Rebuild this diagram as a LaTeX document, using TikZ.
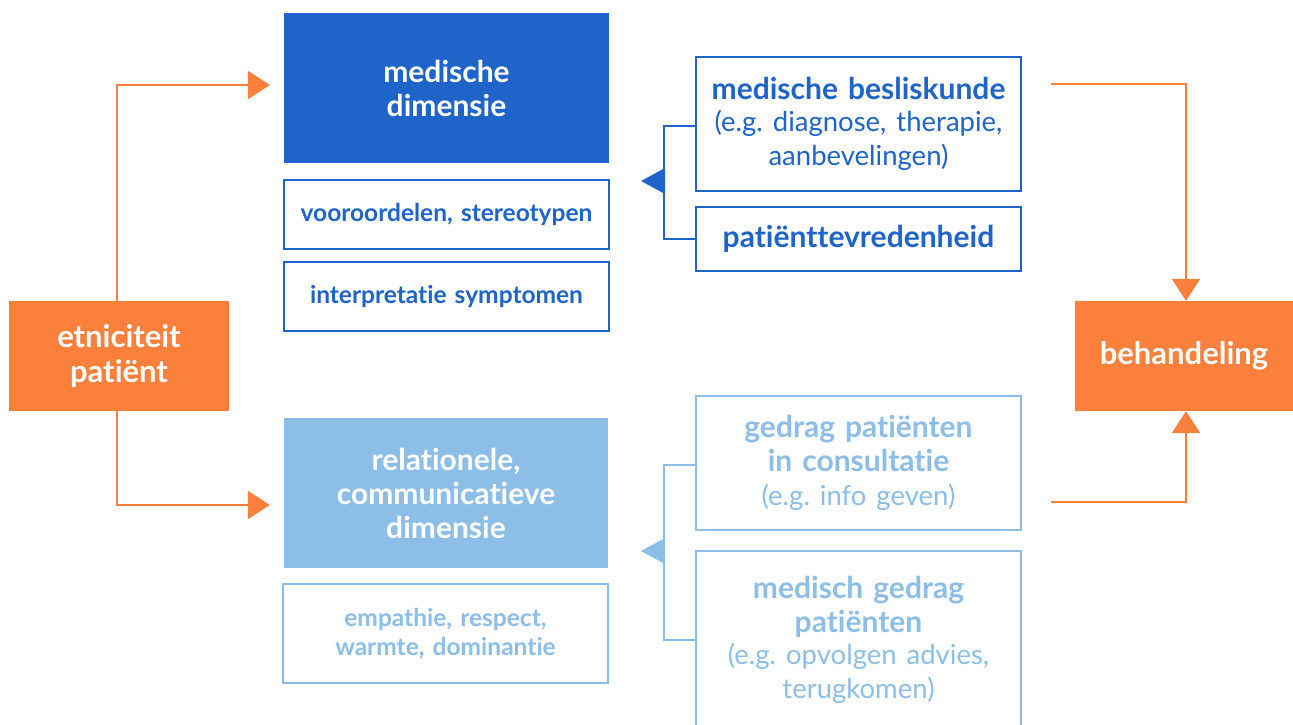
\documentclass[tikz,border=0pt]{standalone}
\usepackage{fontspec}
\setmainfont{Lato}[Ligatures=NoCommon]
\usetikzlibrary{arrows.meta,calc}
\definecolor{orng}{RGB}{250,128,60}
\definecolor{dblue}{RGB}{31,100,200}
\definecolor{lblue}{RGB}{141,190,232}
\newcommand{\lite}{\fontsize{27.5}{32}\selectfont\mdseries}
\tikzset{
  big/.style={font=\fontsize{30}{34}\selectfont\bfseries},
  small/.style={font=\fontsize{24.5}{29}\selectfont\bfseries},
  box/.style={draw, line width=2.5pt, inner sep=0pt, align=center, text width=320pt},
  filledbox/.style={inner sep=0pt, align=center, text width=320pt, text=white},
  orangebox/.style={fill=orng, inner sep=0pt, align=center, text=white, font=\fontsize{31}{35}\selectfont\bfseries},
  oline/.style={draw=orng, line width=2.5pt, -{Triangle[length=22pt,width=28pt]}},
  bline/.style={line width=2.5pt},
}
\begin{document}
\begin{tikzpicture}[x=1pt,y=-1pt]
\clip (0,0) rectangle (1293,725);
\fill[white] (0,0) rectangle (1293,725);
% left column
\node[fill=dblue, filledbox, minimum width=325pt, minimum height=150pt, big] (md) at (446.5,88) {medische\\dimensie};
\node[box, draw=dblue, text=dblue, minimum width=325pt, minimum height=69pt, small] (vs) at (446.5,214.5) {vooroordelen, stereotypen};
\node[box, draw=dblue, text=dblue, minimum width=325pt, minimum height=69pt, small] (is) at (446.5,296.5) {interpretatie symptomen};
\node[fill=lblue, filledbox, minimum width=324pt, minimum height=150pt, big] (rc) at (446,493) {relationele,\\communicatieve\\dimensie};
\node[box, draw=lblue, text=lblue, minimum width=325pt, minimum height=99pt, small] (er) at (445.5,633.5) {empathie, respect,\\warmte, dominantie};
% right column
\node[box, draw=dblue, text=dblue, minimum width=325pt, minimum height=134pt, big] (mb) at (858.5,124) {medische besliskunde\\\lite (e.g.\ diagnose, therapie,\\\lite aanbevelingen)};
\node[box, draw=dblue, text=dblue, minimum width=325pt, minimum height=64pt, big] (pt) at (858.5,239) {patiënttevredenheid};
\node[box, draw=lblue, text=lblue, minimum width=325pt, minimum height=134pt, big] (gp) at (858.5,463) {gedrag patiënten\\in consultatie\\\lite (e.g.\ info geven)};
\node[box, draw=lblue, text=lblue, minimum width=325pt, minimum height=178pt, big] (mg) at (858.5,640) {medisch gedrag\\patiënten\\\lite (e.g.\ opvolgen advies,\\\lite terugkomen)};
% orange boxes
\node[orangebox, minimum width=220pt, minimum height=110pt] (ep) at (119,356) {etniciteit\\patiënt};
\node[orangebox, minimum width=218pt, minimum height=110pt] (bh) at (1184,356) {behandeling};
% orange connectors
\draw[oline] ([xshift=-2pt]ep.north) |- ([yshift=3pt,xshift=-14pt]md.west);
\draw[oline] ([xshift=-2pt]ep.south) |- ([yshift=-12pt,xshift=-14pt]rc.west);
\coordinate (c1) at (1051,84);
\coordinate (c2) at (1051,502);
\draw[oline] (c1) -| ([xshift=2pt]bh.north);
\draw[oline] (c2) -| ([xshift=2pt]bh.south);
% blue brackets
\draw[bline, draw=dblue] ([yshift=-2pt]mb.west) -- ++(-31,0) |- (pt.west);
\fill[dblue] (665,168) -- (641,181) -- (665,194) -- cycle;
\draw[bline, draw=lblue] ([yshift=-2pt]gp.west) -- ++(-31,0) |- (mg.west);
\fill[lblue] (665,538) -- (641,551) -- (665,564) -- cycle;
\end{tikzpicture}
\end{document}
